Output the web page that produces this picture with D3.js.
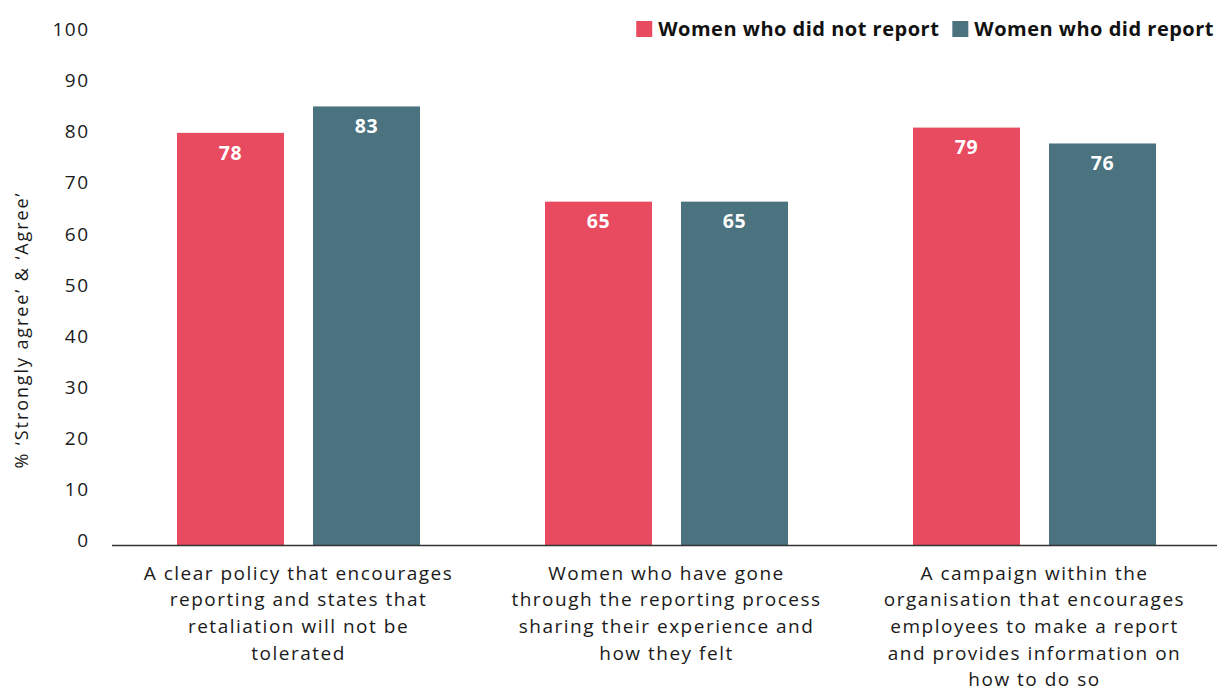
<!DOCTYPE html>
<html>
<head>
<meta charset="utf-8">
<script src="https://cdn.jsdelivr.net/npm/d3@7"></script>
<style>
  html, body { margin: 0; padding: 0; background: #fff; }
  svg { display: block; }
</style>
</head>
<body>
<svg id="chart" width="1217" height="691"></svg>
<script>
// Survey results: share answering 'Strongly agree' or 'Agree'
const categories = [
  "A clear policy that encourages reporting and states that retaliation will not be tolerated",
  "Women who have gone through the reporting process sharing their experience and how they felt",
  "A campaign within the organisation that encourages employees to make a report and provides information on how to do so"
];
const categoryLines = [
  ["A clear policy that encourages", "reporting and states that", "retaliation will not be", "tolerated"],
  ["Women who have gone", "through the reporting process", "sharing their experience and", "how they felt"],
  ["A campaign within the", "organisation that encourages", "employees to make a report", "and provides information on", "how to do so"]
];
const seriesNames = ["Women who did not report", "Women who did report"];
const notReported = [78, 65, 79];
const reported = [83, 65, 76];
const yTicks = [0, 10, 20, 30, 40, 50, 60, 70, 80, 90, 100];
const yTitle = "% \u2018Strongly agree\u2019 & \u2018Agree\u2019";

const colors = ["#E84A5F", "#4A727F"];
const fontFamily = "'Open Sans', 'Noto Sans', sans-serif";

const svg = d3.select("#chart");
const baseY = 545.5;

// Scales
const x0 = d3.scaleBand().domain(categories).range([114.5, 1218.5]).paddingInner(0).paddingOuter(0);
const x1 = d3.scaleBand().domain(seriesNames).range([62.5, 305.5]).paddingInner(29 / 136).paddingOuter(0);
const y = d3.scaleLinear().domain([0, 100]).range([baseY, baseY - 529]);
// Tick labels sit on their own evenly spaced track
const yLabel = d3.scaleLinear().domain([0, 100]).range([540, 29]);

const color = d3.scaleOrdinal().domain(seriesNames).range(colors);

const rows = categories.map((c, i) => ({
  category: c,
  values: [
    { series: seriesNames[0], value: notReported[i] },
    { series: seriesNames[1], value: reported[i] }
  ]
}));

// Y axis labels
const yAxis = d3.axisLeft(yLabel).tickValues(yTicks).tickSize(0).tickPadding(0).tickFormat(d3.format("d"));
const gy = svg.append("g").attr("transform", "translate(89.5,0)").call(yAxis);
gy.select(".domain").remove();
gy.selectAll("text")
  .attr("font-family", fontFamily)
  .attr("font-size", 19)
  .attr("letter-spacing", 1.5)
  .attr("fill", "#1a1a1a")
  .attr("dy", "0.35em");

// Y axis title
svg.append("text")
  .attr("transform", "translate(28,330) rotate(-90)")
  .attr("text-anchor", "middle")
  .attr("font-family", fontFamily)
  .attr("font-size", 18)
  .attr("letter-spacing", 1.9)
  .attr("fill", "#1a1a1a")
  .text(yTitle);

// Bars
const groups = svg.append("g").selectAll("g")
  .data(rows)
  .join("g")
  .attr("transform", d => `translate(${x0(d.category)},0)`);

groups.selectAll("rect")
  .data(d => d.values)
  .join("rect")
  .attr("x", d => x1(d.series))
  .attr("width", x1.bandwidth())
  .attr("y", d => y(d.value))
  .attr("height", d => y(0) - y(d.value))
  .attr("fill", d => color(d.series));

groups.selectAll("text.value")
  .data(d => d.values)
  .join("text")
  .attr("class", "value")
  .attr("x", d => x1(d.series) + x1.bandwidth() / 2)
  .attr("y", d => y(d.value) + 20)
  .attr("dy", "0.35em")
  .attr("text-anchor", "middle")
  .attr("font-family", fontFamily)
  .attr("font-weight", 700)
  .attr("font-size", 19.5)
  .attr("letter-spacing", 0.5)
  .attr("fill", "#fff")
  .text(d => d.value);

// Baseline
svg.append("line")
  .attr("x1", 112).attr("x2", 1217)
  .attr("y1", baseY).attr("y2", baseY)
  .attr("stroke", "#333").attr("stroke-width", 1.3);

// Category labels
const xl = svg.append("g");
categories.forEach((c, i) => {
  const cx = x0(c) + x0.bandwidth() / 2;
  const t = xl.append("text")
    .attr("text-anchor", "middle")
    .attr("font-family", fontFamily)
    .attr("font-size", 19)
    .attr("letter-spacing", 1.5)
    .attr("fill", "#1a1a1a");
  categoryLines[i].forEach((line, j) => {
    t.append("tspan")
      .attr("x", cx)
      .attr("y", 573 + j * 26.7)
      .attr("dy", "0.35em")
      .text(line);
  });
});

// Legend, right aligned
const legend = svg.append("g");
let cursor = 1214;
for (let i = seriesNames.length - 1; i >= 0; i--) {
  const t = legend.append("text")
    .attr("x", cursor)
    .attr("y", 29)
    .attr("dy", "0.35em")
    .attr("text-anchor", "end")
    .attr("font-family", fontFamily)
    .attr("font-weight", 700)
    .attr("font-size", 20)
    .attr("letter-spacing", 0.5)
    .attr("fill", "#111")
    .text(seriesNames[i]);
  const w = t.node().getComputedTextLength();
  legend.append("rect")
    .attr("x", cursor - w - 22)
    .attr("y", 21)
    .attr("width", 16)
    .attr("height", 16)
    .attr("fill", colors[i]);
  cursor = cursor - w - 22 - 13;
}
</script>
</body>
</html>
